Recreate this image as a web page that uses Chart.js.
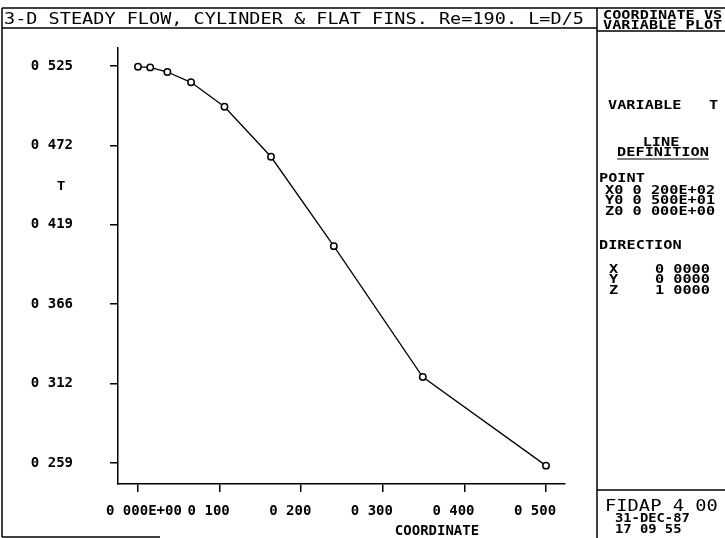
<!DOCTYPE html>
<html lang="en">
<head>
<meta charset="UTF-8">
<title>FIDAP coordinate vs variable plot</title>
<script src="https://cdn.jsdelivr.net/npm/chart.js"></script>
<style>
  body { margin: 0; background: #fff; }
  canvas { display: block; }
</style>
</head>
<body>
<canvas id="plot" width="725" height="538"></canvas>
<script>
// coordinate along the line and variable T
const coord = [0.000, 0.015, 0.036, 0.065, 0.106, 0.163, 0.240, 0.349, 0.500];
const tempT = [0.5247, 0.5243, 0.5212, 0.5143, 0.4979, 0.4644, 0.4045, 0.3168, 0.2574];

const xTicks = [0, 0.1, 0.2, 0.3, 0.4, 0.5];
const xTickLabels = ['0 000E+00', '0 100', '0 200', '0 300', '0 400', '0 500'];
const yTicks = [0.2592, 0.3124, 0.3656, 0.4188, 0.4720, 0.5252];
const yTickLabels = ['0 259', '0 312', '0 366', '0 419', '0 472', '0 525'];

const MONO = '"DejaVu Sans Mono", "Liberation Mono", monospace';

// draw text stretched horizontally (plotter fonts are wide and short)
function txt(ctx, s, x, y, size, sx, align, bold) {
  ctx.save();
  ctx.font = (bold ? 'bold ' : '') + size + 'px ' + MONO;
  ctx.textBaseline = 'alphabetic';
  ctx.textAlign = 'left';
  ctx.fillStyle = '#000';
  const w = ctx.measureText(s).width * sx;
  let x0 = x;
  if (align === 'center') x0 = x - w / 2;
  if (align === 'right') x0 = x - w;
  ctx.translate(x0, y);
  ctx.scale(sx, 1);
  ctx.fillText(s, 0, 0);
  ctx.restore();
  return { x0: x0, w: w };
}

function line(ctx, x1, y1, x2, y2) {
  ctx.beginPath();
  ctx.moveTo(x1, y1);
  ctx.lineTo(x2, y2);
  ctx.stroke();
}

const framePlugin = {
  id: 'frame',
  afterDraw(chart) {
    const ctx = chart.ctx;
    ctx.save();
    ctx.strokeStyle = '#000';
    ctx.lineWidth = 1.5;

    // outer frame and title box
    line(ctx, 2, 8, 725, 8);
    line(ctx, 2, 8, 2, 537);
    line(ctx, 2, 28, 597, 28);
    line(ctx, 2, 537, 160, 537);
    line(ctx, 597, 8, 597, 538);
    // right panel boxes
    line(ctx, 597, 31, 725, 31);
    line(ctx, 597, 490, 725, 490);

    txt(ctx, '3-D STEADY FLOW, CYLINDER & FLAT FINS. Re=190. L=D/5', 4, 24, 15, 1.235, 'left', false);

    txt(ctx, 'COORDINATE VS', 603, 19, 12, 1.27, 'left', true);
    txt(ctx, 'VARIABLE PLOT', 603, 29, 12, 1.27, 'left', true);

    txt(ctx, 'VARIABLE   T', 608, 109, 12, 1.27, 'left', true);

    txt(ctx, 'LINE', 661, 146, 12, 1.27, 'center', true);
    const d = txt(ctx, 'DEFINITION', 663, 156, 12, 1.27, 'center', true);
    ctx.lineWidth = 1.2;
    line(ctx, d.x0, 159, d.x0 + d.w, 159);

    txt(ctx, 'POINT', 599, 182, 12, 1.27, 'left', true);
    txt(ctx, 'X0 0 200E+02', 605, 194, 12, 1.27, 'left', true);
    txt(ctx, 'Y0 0 500E+01', 605, 204, 12, 1.27, 'left', true);
    txt(ctx, 'Z0 0 000E+00', 605, 215, 12, 1.27, 'left', true);

    txt(ctx, 'DIRECTION', 599, 249, 12, 1.27, 'left', true);
    txt(ctx, 'X    0 0000', 609, 273, 12, 1.27, 'left', true);
    txt(ctx, 'Y    0 0000', 609, 283, 12, 1.27, 'left', true);
    txt(ctx, 'Z    1 0000', 609, 294, 12, 1.27, 'left', true);

    txt(ctx, 'FIDAP 4 00', 605, 511, 15, 1.25, 'left', false);
    txt(ctx, '31-DEC-87', 615, 522, 12, 1.15, 'left', true);
    txt(ctx, '17 09 55', 615, 533, 12, 1.15, 'left', true);

    // axis titles
    txt(ctx, 'T', 61, 190, 13, 1.1, 'center', true);
    txt(ctx, 'COORDINATE', 437, 535, 14, 1.0, 'center', true);

    ctx.restore();
  }
};

new Chart(document.getElementById('plot'), {
  type: 'scatter',
  data: {
    datasets: [{
      data: coord.map((x, i) => ({ x: x, y: tempT[i] })),
      showLine: true,
      borderColor: '#000',
      borderWidth: 1.3,
      pointRadius: 3.2,
      pointBackgroundColor: '#fff',
      pointBorderColor: '#000',
      pointBorderWidth: 1.5,
      tension: 0
    }]
  },
  options: {
    responsive: false,
    animation: false,
    events: [],
    layout: { padding: { left: 0, top: 48, right: 160, bottom: 0 } },
    plugins: { legend: { display: false }, tooltip: { enabled: false } },
    scales: {
      x: {
        type: 'linear',
        min: -0.0245,
        max: 0.5233,
        afterBuildTicks: s => { s.ticks = xTicks.map(v => ({ value: v })); },
        afterFit: s => { s.height = 538 - 484; },
        grid: { drawOnChartArea: false, drawTicks: true, tickLength: 8, color: '#000', lineWidth: 1.5 },
        border: { display: true, color: '#000', width: 1.5 },
        ticks: {
          color: '#000',
          font: { family: MONO, size: 14, weight: 'bold' },
          padding: 11,
          align: 'start',
          labelOffset: -32,
          maxRotation: 0,
          autoSkip: false,
          callback: (v, i) => xTickLabels[i]
        }
      },
      y: {
        type: 'linear',
        min: 0.2451,
        max: 0.5373,
        afterBuildTicks: s => { s.ticks = yTicks.map(v => ({ value: v })); },
        afterFit: s => { s.width = 118; },
        grid: { drawOnChartArea: false, drawTicks: true, tickLength: 8, color: '#000', lineWidth: 1.5 },
        border: { display: true, color: '#000', width: 1.5 },
        ticks: {
          color: '#000',
          font: { family: MONO, size: 14, weight: 'bold' },
          padding: 37,
          autoSkip: false,
          callback: (v, i) => yTickLabels[i]
        }
      }
    }
  },
  plugins: [framePlugin]
});
</script>
</body>
</html>
